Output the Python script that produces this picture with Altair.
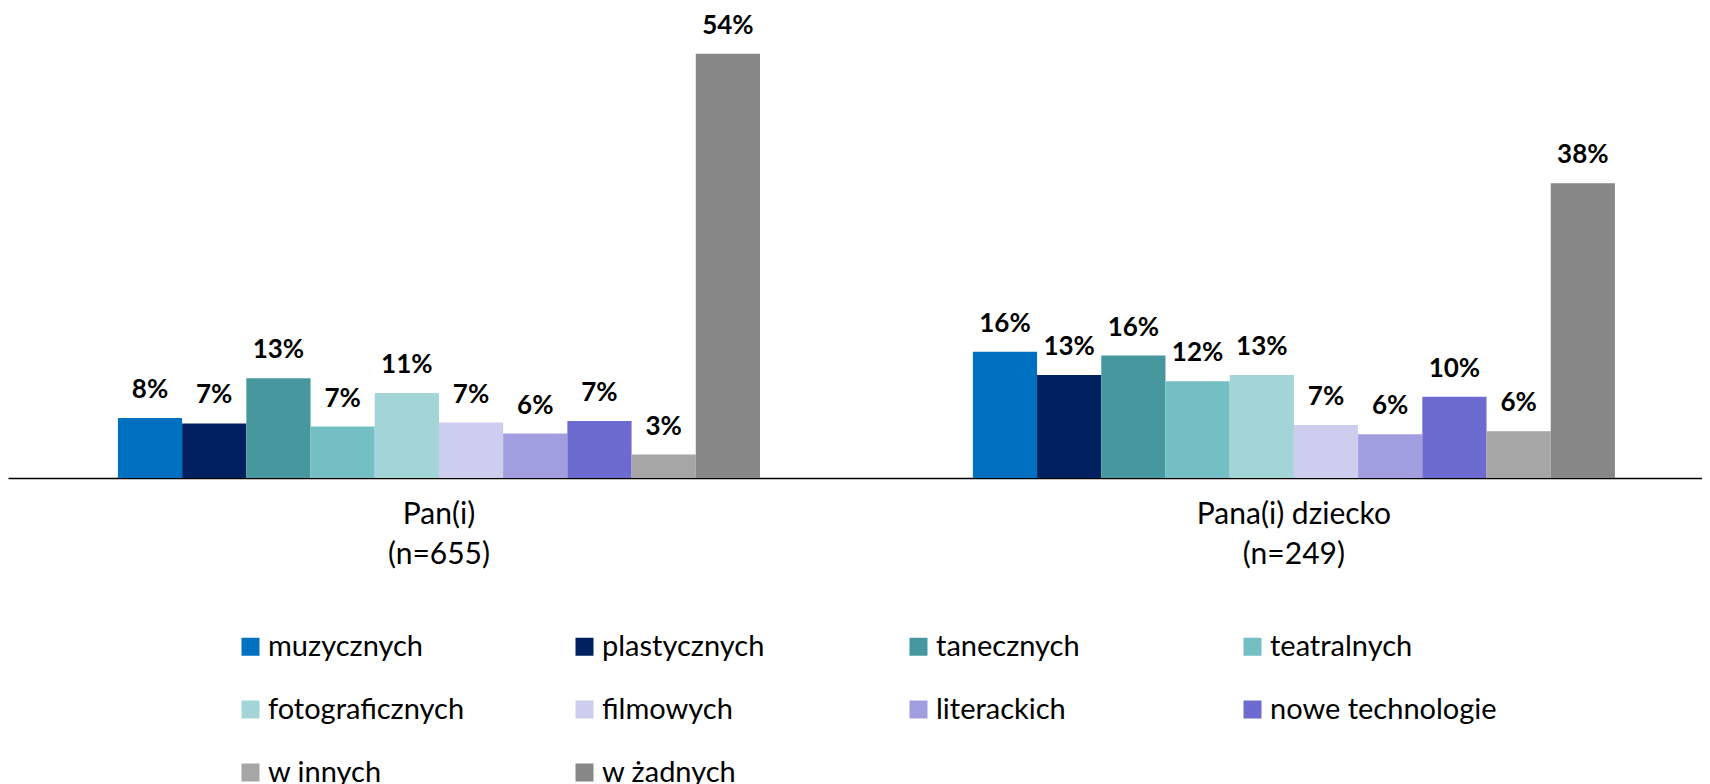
import altair as alt
import pandas as pd

groups = ["Pan(i)|(n=655)", "Pana(i) dziecko|(n=249)"]
categories = ["muzycznych", "plastycznych", "tanecznych", "teatralnych",
              "fotograficznych", "filmowych", "literackich", "nowe technologie",
              "w innych", "w żadnych"]
colors = ["#0070C0", "#002060", "#47989E", "#74BFC4", "#A2D4D8",
          "#CDCDEE", "#A09EDF", "#6E6BD0", "#A6A6A6", "#878787"]
# bar heights (labels show the rounded values)
values_pan = [7.7, 7.0, 12.8, 6.6, 10.9, 7.1, 5.7, 7.3, 3.0, 54.4]
values_dziecko = [16.2, 13.2, 15.7, 12.4, 13.2, 6.8, 5.6, 10.4, 6.0, 37.8]

rows = []
for g, vals in zip(groups, [values_pan, values_dziecko]):
    for c, v in zip(categories, vals):
        rows.append({"group": g, "category": c, "value": v,
                     "label": f"{int(round(v))}%"})
df = pd.DataFrame(rows)

FONT = "Lato"

x = alt.X(
    "group:N", sort=groups,
    scale=alt.Scale(paddingInner=0.249, paddingOuter=0.1152, align=0.558),
    axis=alt.Axis(title=None, labelExpr="split(datum.label, '|')", labelAngle=0,
                  labelFontSize=30, labelLineHeight=40, labelPadding=21,
                  labelLimit=600, ticks=False, domainColor="black", domainWidth=1.5,
                  labelColor="black", labelFont=FONT, labelBaseline="top"),
)
xo = alt.XOffset("category:N", sort=categories,
                 scale=alt.Scale(paddingInner=0, paddingOuter=0))
y = alt.Y("value:Q", scale=alt.Scale(domain=[0, 60.25], nice=False, zero=True), axis=None)

bars = alt.Chart(df).mark_bar().encode(
    x=x, xOffset=xo, y=y,
    color=alt.Color(
        "category:N", sort=categories,
        scale=alt.Scale(domain=categories, range=colors),
        legend=alt.Legend(orient="none", legendX=228, legendY=624, columns=4,
                          gridAlign="all", columnPadding=75, rowPadding=33,
                          symbolType="square", symbolSize=324, symbolStrokeWidth=0,
                          labelFontSize=29, labelFont=FONT, labelColor="black",
                          labelOffset=3, title=None, labelLimit=500,
                          direction="horizontal"),
    ),
)

texts = alt.Chart(df).mark_text(
    font=FONT, fontSize=26, fontWeight="bold", color="black",
    baseline="alphabetic", dy=-20,
).encode(x=x, xOffset=xo, y=y, text="label:N")

chart = (bars + texts).properties(
    width=1694, height=470,
    padding={"left": 0, "top": 0, "right": 0, "bottom": 0},
).configure_view(stroke=None)

chart.save("out.html", embed_options={"renderer": "svg", "actions": False})
